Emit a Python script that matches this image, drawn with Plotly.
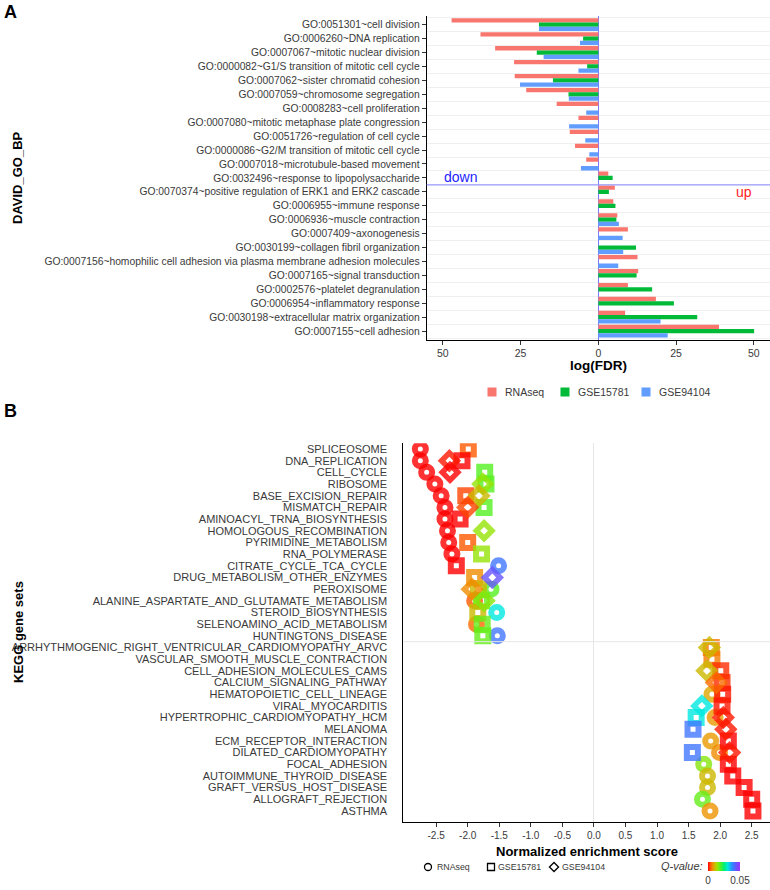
import numpy as np
import plotly.graph_objects as go

W, H = 770, 890
FONT = "Liberation Sans, Arial, sans-serif"

# ---------------- Panel A data ----------------
go_terms = [
    "GO:0051301~cell division",
    "GO:0006260~DNA replication",
    "GO:0007067~mitotic nuclear division",
    "GO:0000082~G1/S transition of mitotic cell cycle",
    "GO:0007062~sister chromatid cohesion",
    "GO:0007059~chromosome segregation",
    "GO:0008283~cell proliferation",
    "GO:0007080~mitotic metaphase plate congression",
    "GO:0051726~regulation of cell cycle",
    "GO:0000086~G2/M transition of mitotic cell cycle",
    "GO:0007018~microtubule-based movement",
    "GO:0032496~response to lipopolysaccharide",
    "GO:0070374~positive regulation of ERK1 and ERK2 cascade",
    "GO:0006955~immune response",
    "GO:0006936~muscle contraction",
    "GO:0007409~axonogenesis",
    "GO:0030199~collagen fibril organization",
    "GO:0007156~homophilic cell adhesion via plasma membrane adhesion molecules",
    "GO:0007165~signal transduction",
    "GO:0002576~platelet degranulation",
    "GO:0006954~inflammatory response",
    "GO:0030198~extracellular matrix organization",
    "GO:0007155~cell adhesion",
]
n_down_go = 12
fdr_rnaseq = [-47.2, -37.9, -33.2, -27.1, -26.9, -23.2, -13.4, -6.4, -9.2, -7.5, -3.9,
              3.2, 5.3, 4.8, 6.1, 9.5, None, 12.6, 12.8, 9.5, 18.5, 8.6, 38.8]
fdr_gse15781 = [-19.1, -4.9, -19.8, -3.6, -14.6, -9.6, None, None, None, None, None,
                4.6, 3.4, 5.5, 5.8, None, 12.1, None, 12.3, 17.3, 24.3, 31.8, 50.1]
fdr_gse94104 = [-19.1, -5.9, -17.6, -6.4, -25.2, -9.5, -3.9, -9.4, -4.2, -2.9, -5.6,
                None, None, None, 6.6, 7.8, 8.0, 6.4, None, None, None, 20.0, 22.3]
fdr_ticks = [-50, -25, 0, 25, 50]
fdr_ticktext = ["50", "25", "0", "25", "50"]

# ---------------- Panel B data ----------------
kegg_sets = [
    "SPLICEOSOME", "DNA_REPLICATION", "CELL_CYCLE", "RIBOSOME", "BASE_EXCISION_REPAIR",
    "MISMATCH_REPAIR", "AMINOACYL_TRNA_BIOSYNTHESIS", "HOMOLOGOUS_RECOMBINATION",
    "PYRIMIDINE_METABOLISM", "RNA_POLYMERASE", "CITRATE_CYCLE_TCA_CYCLE",
    "DRUG_METABOLISM_OTHER_ENZYMES", "PEROXISOME", "ALANINE_ASPARTATE_AND_GLUTAMATE_METABOLISM",
    "STEROID_BIOSYNTHESIS", "SELENOAMINO_ACID_METABOLISM", "HUNTINGTONS_DISEASE",
    "ARRHYTHMOGENIC_RIGHT_VENTRICULAR_CARDIOMYOPATHY_ARVC", "VASCULAR_SMOOTH_MUSCLE_CONTRACTION",
    "CELL_ADHESION_MOLECULES_CAMS", "CALCIUM_SIGNALING_PATHWAY", "HEMATOPOIETIC_CELL_LINEAGE",
    "VIRAL_MYOCARDITIS", "HYPERTROPHIC_CARDIOMYOPATHY_HCM", "MELANOMA",
    "ECM_RECEPTOR_INTERACTION", "DILATED_CARDIOMYOPATHY", "FOCAL_ADHESION",
    "AUTOIMMUNE_THYROID_DISEASE", "GRAFT_VERSUS_HOST_DISEASE", "ALLOGRAFT_REJECTION", "ASTHMA",
]
n_down_kegg = 17

rnaseq_sets = ["SPLICEOSOME", "DNA_REPLICATION", "CELL_CYCLE", "RIBOSOME", "BASE_EXCISION_REPAIR",
               "MISMATCH_REPAIR", "AMINOACYL_TRNA_BIOSYNTHESIS", "HOMOLOGOUS_RECOMBINATION",
               "PYRIMIDINE_METABOLISM", "RNA_POLYMERASE", "CITRATE_CYCLE_TCA_CYCLE", "PEROXISOME",
               "ALANINE_ASPARTATE_AND_GLUTAMATE_METABOLISM", "STEROID_BIOSYNTHESIS",
               "SELENOAMINO_ACID_METABOLISM", "HUNTINGTONS_DISEASE", "HEMATOPOIETIC_CELL_LINEAGE",
               "HYPERTROPHIC_CARDIOMYOPATHY_HCM", "ECM_RECEPTOR_INTERACTION", "DILATED_CARDIOMYOPATHY",
               "FOCAL_ADHESION", "AUTOIMMUNE_THYROID_DISEASE", "GRAFT_VERSUS_HOST_DISEASE",
               "ALLOGRAFT_REJECTION", "ASTHMA"]
rnaseq_nes = [-2.75, -2.75, -2.65, -2.52, -2.42, -2.36, -2.36, -2.32, -2.30, -2.25, -1.51, -1.63,
              -1.89, -1.54, -1.86, -1.53, 1.87, 1.92, 1.85, 1.99, 1.74, 1.80, 1.80, 1.72, 1.84]
rnaseq_q = [0.0, 0.0, 0.0, 0.0, 0.0, 0.0, 0.0, 0.0, 0.0, 0.0, 0.040, 0.019,
            0.004, 0.031, 0.005, 0.040, 0.009, 0.008, 0.008, 0.007, 0.016, 0.0105, 0.0105, 0.018, 0.0075]

gse15781_sets = ["SPLICEOSOME", "DNA_REPLICATION", "CELL_CYCLE", "RIBOSOME", "BASE_EXCISION_REPAIR",
                 "MISMATCH_REPAIR", "AMINOACYL_TRNA_BIOSYNTHESIS", "PYRIMIDINE_METABOLISM",
                 "RNA_POLYMERASE", "CITRATE_CYCLE_TCA_CYCLE", "DRUG_METABOLISM_OTHER_ENZYMES",
                 "PEROXISOME", "ALANINE_ASPARTATE_AND_GLUTAMATE_METABOLISM", "STEROID_BIOSYNTHESIS",
                 "SELENOAMINO_ACID_METABOLISM", "HUNTINGTONS_DISEASE",
                 "ARRHYTHMOGENIC_RIGHT_VENTRICULAR_CARDIOMYOPATHY_ARVC", "VASCULAR_SMOOTH_MUSCLE_CONTRACTION",
                 "CELL_ADHESION_MOLECULES_CAMS", "CALCIUM_SIGNALING_PATHWAY", "HEMATOPOIETIC_CELL_LINEAGE",
                 "VIRAL_MYOCARDITIS", "HYPERTROPHIC_CARDIOMYOPATHY_HCM", "MELANOMA",
                 "ECM_RECEPTOR_INTERACTION", "DILATED_CARDIOMYOPATHY", "FOCAL_ADHESION",
                 "AUTOIMMUNE_THYROID_DISEASE", "GRAFT_VERSUS_HOST_DISEASE", "ALLOGRAFT_REJECTION", "ASTHMA"]
gse15781_nes = [-1.99, -2.09, -1.73, -1.71, -2.03, -1.74, -2.12, -2.00, -1.78, -2.18, -1.89,
                -1.83, -1.78, -1.84, -1.77, -1.76, 1.86, 1.87, 2.01, 2.03, 2.04, 2.03, 1.62, 1.57,
                2.13, 1.56, 2.13, 2.20, 2.38, 2.50, 2.52]
gse15781_q = [0.004, 0.0, 0.019, 0.019, 0.003, 0.019, 0.0, 0.004, 0.015, 0.0, 0.007,
              0.0105, 0.018, 0.0105, 0.018, 0.018, 0.006, 0.006, 0.002, 0.002, 0.001, 0.001, 0.031, 0.040,
              0.0, 0.040, 0.0, 0.0, 0.0, 0.0, 0.0]

gse94104_sets = ["DNA_REPLICATION", "CELL_CYCLE", "RIBOSOME", "BASE_EXCISION_REPAIR", "MISMATCH_REPAIR",
                 "HOMOLOGOUS_RECOMBINATION", "DRUG_METABOLISM_OTHER_ENZYMES", "PEROXISOME",
                 "ALANINE_ASPARTATE_AND_GLUTAMATE_METABOLISM",
                 "ARRHYTHMOGENIC_RIGHT_VENTRICULAR_CARDIOMYOPATHY_ARVC", "CELL_ADHESION_MOLECULES_CAMS",
                 "CALCIUM_SIGNALING_PATHWAY", "VIRAL_MYOCARDITIS", "HYPERTROPHIC_CARDIOMYOPATHY_HCM",
                 "MELANOMA", "DILATED_CARDIOMYOPATHY"]
gse94104_nes = [-2.29, -2.28, -1.76, -1.82, -2.00, -1.74, -1.61, -1.93, -1.74,
                1.83, 1.79, 1.94, 1.71, 2.05, 2.09, 2.15]
gse94104_q = [0.001, 0.0, 0.015, 0.0105, 0.003, 0.015, 0.044, 0.007, 0.016,
              0.0105, 0.0105, 0.005, 0.031, 0.001, 0.001, 0.001]

nes_ticks = [-2.5, -2.0, -1.5, -1.0, -0.5, 0.0, 0.5, 1.0, 1.5, 2.0, 2.5]
q_min, q_max = 0.0, 0.05
series_names = ["RNAseq", "GSE15781", "GSE94104"]

# ---------------- styles ----------------
bar_colors = {"RNAseq": "#F8766D", "GSE15781": "#00BA38", "GSE94104": "#619CFF"}
q_scale = [
    [0.00, "#FF0000"], [0.08, "#FF5A00"], [0.15, "#EE9400"], [0.21, "#CDB800"],
    [0.28, "#A6E000"], [0.38, "#55F020"], [0.50, "#00F070"], [0.62, "#00E8E0"],
    [0.75, "#2A8CFF"], [0.88, "#6655FF"], [1.00, "#9933FF"],
]
TXT = "#3a3a3a"


def px_x(p):
    return p / W


def px_y(p):
    return 1 - p / H


fig = go.Figure()

# legend layout (px): symbol centres and text starts
LEG_A_Y, LEG_B_Y = 392, 867
leg_a_symbol = [491, 564, 645]
leg_a_text = [503, 576, 657]
leg_b_symbol = [427, 490, 553]
leg_b_text = [435, 496, 560]
SYMBOL_OFFSET = 19  # plotly places a legend symbol ~19px right of the legend's left edge
legend_names_a = ["legend", "legend2", "legend3"]
legend_names_b = ["legend4", "legend5", "legend6"]

# Panel A bars
go_idx = np.arange(len(go_terms))
for j, (name, vals) in enumerate(zip(series_names, [fdr_rnaseq, fdr_gse15781, fdr_gse94104])):
    fig.add_trace(go.Bar(
        x=vals, y=go_idx, orientation="h", name=name,
        marker=dict(color=bar_colors[name], line=dict(width=0)),
        showlegend=False, xaxis="x", yaxis="y", hoverinfo="x+y",
    ))
    fig.add_trace(go.Scatter(
        x=[None], y=[None], mode="markers", name=" ",
        marker=dict(symbol="square", size=9, color=bar_colors[name]),
        legend=legend_names_a[j], xaxis="x", yaxis="y", hoverinfo="skip",
    ))

# Panel B points
kegg_pos = {s: i for i, s in enumerate(kegg_sets)}
series_b = [
    ("circle-open", rnaseq_sets, rnaseq_nes, rnaseq_q, 11, 6),
    ("square-open", gse15781_sets, gse15781_nes, gse15781_q, 11, 6),
    ("diamond-open", gse94104_sets, gse94104_nes, gse94104_q, 12, 5.5),
]
for k, (sym, sets, nes, q, size, lw) in enumerate(series_b):
    fig.add_trace(go.Scatter(
        x=nes, y=[kegg_pos[s] for s in sets], mode="markers", name=series_names[k],
        marker=dict(
            symbol=sym, size=size, color=q, colorscale=q_scale, cmin=q_min, cmax=q_max,
            opacity=0.8, line=dict(width=lw),
            showscale=(k == 0),
            colorbar=dict(
                orientation="h", x=px_x(724), xanchor="center", y=px_y(872), yanchor="middle",
                len=32, lenmode="pixels", thickness=9, tickvals=[q_min, q_max],
                ticktext=["0", "0.05"], ticks="", outlinewidth=0, xpad=0, ypad=0,
                tickfont=dict(size=10, color=TXT, family=FONT),
            ),
        ),
        showlegend=False, xaxis="x2", yaxis="y2",
    ))
    fig.add_trace(go.Scatter(
        x=[None], y=[None], mode="markers", name=" ",
        marker=dict(symbol=sym, size=7, color="black", line=dict(width=1.3)),
        legend=legend_names_b[k], xaxis="x2", yaxis="y2", hoverinfo="skip",
    ))

kegg_idx = np.arange(len(kegg_sets))

legend_layout = {}
for nm, sx in zip(legend_names_a, leg_a_symbol):
    legend_layout[nm] = dict(
        orientation="h", x=px_x(sx - SYMBOL_OFFSET), xanchor="left", y=px_y(LEG_A_Y),
        yanchor="middle", font=dict(size=10.5, color=TXT), bgcolor="rgba(0,0,0,0)",
        itemwidth=30, borderwidth=0,
    )
for nm, sx in zip(legend_names_b, leg_b_symbol):
    legend_layout[nm] = dict(
        orientation="h", x=px_x(sx - SYMBOL_OFFSET), xanchor="left", y=px_y(LEG_B_Y),
        yanchor="middle", font=dict(size=8.8, color=TXT), bgcolor="rgba(0,0,0,0)",
        itemwidth=30, borderwidth=0,
    )

legend_texts = []
for name, tx in zip(series_names, leg_a_text):
    legend_texts.append(dict(text=name, xref="paper", yref="paper", x=px_x(tx), y=px_y(LEG_A_Y),
                             xanchor="left", yanchor="middle", showarrow=False,
                             font=dict(size=10.5, color=TXT)))
for name, tx in zip(series_names, leg_b_text):
    legend_texts.append(dict(text=name, xref="paper", yref="paper", x=px_x(tx), y=px_y(LEG_B_Y),
                             xanchor="left", yanchor="middle", showarrow=False,
                             font=dict(size=8.8, color=TXT)))

fig.update_layout(
    width=W, height=H, margin=dict(l=0, r=0, t=0, b=0),
    paper_bgcolor="white", plot_bgcolor="white",
    font=dict(family=FONT, color=TXT),
    barmode="group", bargap=0.08, bargroupgap=0,
    xaxis=dict(
        domain=[px_x(426.7), 1.0], range=[-55.2, 55.2], anchor="y",
        tickvals=fdr_ticks, ticktext=fdr_ticktext, tickfont=dict(size=10.5, color=TXT),
        showline=True, linecolor="black", linewidth=1, ticks="outside", ticklen=4,
        tickcolor="#333", showgrid=False, zeroline=True, zerolinecolor="#7B7BFF",
        zerolinewidth=1, automargin=False,
    ),
    yaxis=dict(
        domain=[px_y(339.5), px_y(16.3)], range=[len(go_terms) - 0.4, -0.6], anchor="x",
        tickvals=go_idx, ticktext=go_terms, tickfont=dict(size=10.3, color=TXT),
        showline=True, linecolor="black", linewidth=1, ticks="outside", ticklen=4,
        tickcolor="#333", showgrid=False, zeroline=False, automargin=False,
        minor=dict(tick0=0.5, dtick=1, showgrid=True, gridcolor="#EFEFEF", gridwidth=1, ticks=""),
    ),
    xaxis2=dict(
        domain=[px_x(403.3), 1.0], range=[-3.02, 2.79], anchor="y2",
        tickvals=nes_ticks, ticktext=[f"{v:.1f}" for v in nes_ticks],
        tickfont=dict(size=10, color=TXT),
        showline=True, linecolor="black", linewidth=1, ticks="outside", ticklen=4,
        tickcolor="#333", showgrid=False, zeroline=True, zerolinecolor="#E6E6E6",
        zerolinewidth=1, automargin=False,
    ),
    yaxis2=dict(
        domain=[px_y(821.7), px_y(443.3)], range=[len(kegg_sets) - 0.08, -0.49], anchor="x2",
        tickvals=kegg_idx, ticktext=kegg_sets, tickfont=dict(size=11, color=TXT),
        showline=True, linecolor="black", linewidth=1, ticks="outside", ticklen=13,
        tickcolor="rgba(0,0,0,0)", showgrid=False, zeroline=False, automargin=False,
    ),
    shapes=[
        dict(type="line", xref="x domain", x0=0, x1=1, yref="y",
             y0=n_down_go - 0.5, y1=n_down_go - 0.5, line=dict(color="#9A9AFF", width=1.2)),
        dict(type="line", xref="x2 domain", x0=0, x1=1, yref="y2",
             y0=n_down_kegg - 0.5, y1=n_down_kegg - 0.5, line=dict(color="#E6E6E6", width=1)),
    ],
    annotations=[
        dict(text="<b>A</b>", xref="paper", yref="paper", x=px_x(2), y=px_y(0), xanchor="left",
             yanchor="top", showarrow=False, font=dict(size=18, color="black")),
        dict(text="<b>B</b>", xref="paper", yref="paper", x=px_x(2), y=px_y(399), xanchor="left",
             yanchor="top", showarrow=False, font=dict(size=18, color="black")),
        dict(text="<b>DAVID_GO_BP</b>", xref="paper", yref="paper", x=px_x(18), y=px_y(178),
             xanchor="center", yanchor="middle",
             textangle=-90, showarrow=False, font=dict(size=13, color="black")),
        dict(text="<b>KEGG gene sets</b>", xref="paper", yref="paper", x=px_x(18), y=px_y(632),
             xanchor="center", yanchor="middle",
             textangle=-90, showarrow=False, font=dict(size=13, color="black")),
        dict(text="<b>log(FDR)</b>", xref="paper", yref="paper", x=px_x(598.3), y=px_y(365),
             xanchor="center", yanchor="middle",
             showarrow=False, font=dict(size=13.5, color="black")),
        dict(text="<b>Normalized enrichment score</b>", xref="paper", yref="paper", x=px_x(586.5),
             y=px_y(851), xanchor="center", yanchor="middle",
             showarrow=False, font=dict(size=13, color="black")),
        dict(text="down", xref="x domain", yref="y", x=0.045, y=n_down_go - 1.05, xanchor="left",
             yanchor="middle", showarrow=False, font=dict(size=14, color="#2222FF")),
        dict(text="up", xref="x domain", yref="y", x=0.952, y=n_down_go, xanchor="right",
             yanchor="middle", showarrow=False, font=dict(size=14, color="#FF2222")),
        dict(text="<i>Q-value:</i>", xref="paper", yref="paper", x=px_x(705), y=px_y(866),
             xanchor="right", yanchor="middle", showarrow=False, font=dict(size=11, color=TXT)),
    ] + legend_texts,
    **legend_layout,
)

fig.write_html(
    "out.html",
    config={"displayModeBar": False},
    post_script="document.body.style.margin='0';document.body.style.overflow='hidden';",
)
